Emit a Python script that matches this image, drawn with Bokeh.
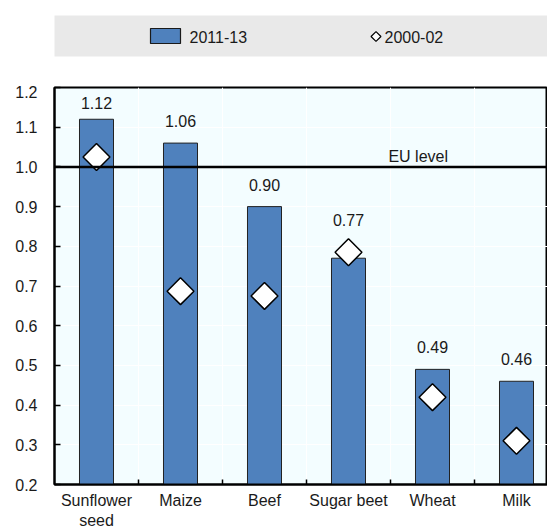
import math
from bokeh.plotting import figure
from bokeh.models import Range1d, FixedTicker, ColumnDataSource, LabelSet, Span, Label
from bokeh.layouts import column
from bokeh.core.properties import value
from bokeh.embed import file_html
from bokeh.resources import INLINE

# ---- data ----
categories = ["Sunflower\nseed", "Maize", "Beef", "Sugar beet", "Wheat", "Milk"]
values_2011_13 = [1.12, 1.06, 0.90, 0.77, 0.49, 0.46]
values_2000_02 = [1.025, 0.687, 0.675, 0.785, 0.42, 0.31]
y_ticks = [0.2, 0.3, 0.4, 0.5, 0.6, 0.7, 0.8, 0.9, 1.0, 1.1, 1.2]
eu_level = 1.0
series_names = ["2011-13", "2000-02"]

FONT = "Liberation Sans"
TXT = "#1a1a1a"
BLUE = "#4F81BD"
BG = "#F3FDFF"

W = 547
LEFT = 54
TOP_H = 85

# ---- legend strip (top) ----
top = figure(width=W, height=TOP_H, x_range=Range1d(LEFT, W), y_range=Range1d(TOP_H, 0),
             output_backend="svg", toolbar_location=None,
             x_axis_type=None, y_axis_type=None,
             min_border_left=LEFT, min_border_right=0, min_border_top=0, min_border_bottom=0)
top.outline_line_color = None
top.background_fill_color = "white"
top.border_fill_color = "white"
top.quad(left=53, right=W, top=15, bottom=56, fill_color="#E9E9E9", line_color=None)
top.quad(left=150, right=180, top=28, bottom=43, fill_color=BLUE, line_color=TXT, line_width=1.2)
top.text(x=[189], y=[36], text=[series_names[0]], text_font=value(FONT),
         text_font_size="16px", text_baseline="middle", text_color=TXT)
top.scatter(x=[375.5], y=[36], marker="square", angle=math.pi / 4, size=7,
            fill_color="white", line_color="black", line_width=1.2)
top.text(x=[384], y=[36], text=[series_names[1]], text_font=value(FONT),
         text_font_size="16px", text_baseline="middle", text_color=TXT)

# ---- main chart ----
n = len(categories)
xs = [i + 0.5 for i in range(n)]
px = 397.0  # frame height in px for one unit of y
label_y = [min(max(v + 16 / px, o + 26.5 / px), 1.2 - 21 / px)
           for v, o in zip(values_2011_13, values_2000_02)]
src = ColumnDataSource(dict(x=xs, top=values_2011_13, old=values_2000_02,
                            label_y=label_y,
                            label=[f"{v:.2f}" for v in values_2011_13]))

p = figure(frame_width=W - LEFT, frame_height=397,
           x_range=Range1d(0, (W - LEFT) / 84), y_range=Range1d(0.2, 1.2),
           output_backend="svg", toolbar_location=None,
           min_border_left=LEFT, min_border_right=0, min_border_top=2, min_border_bottom=4)
p.background_fill_color = BG
p.border_fill_color = "white"
p.outline_line_color = "black"
p.outline_line_width = 2

p.vbar(x="x", top="top", bottom=0, width=0.405, source=src,
       fill_color=BLUE, line_color="#222222", line_width=1)
p.scatter(x="x", y="old", source=src, marker="square", angle=math.pi / 4, size=19,
          fill_color="white", line_color="black", line_width=1.5)

p.add_layout(Span(location=eu_level, dimension="width", line_color="black", line_width=2.5))
p.add_layout(Label(x=4.33, y=eu_level, text="EU level", text_align="center",
                   text_baseline="alphabetic", y_offset=10, text_font=FONT,
                   text_font_size="16px", text_color=TXT))
p.add_layout(LabelSet(x="x", y="label_y", text="label", source=src, text_align="center",
                      text_baseline="alphabetic", text_font=value(FONT),
                      text_font_size="16px", text_color=TXT))

# x axis
p.xaxis.ticker = FixedTicker(ticks=xs, minor_ticks=[1, 2, 3, 4, 5])
p.xaxis.major_label_overrides = {x: c for x, c in zip(xs, categories)}
p.xaxis.major_tick_in = 0
p.xaxis.major_tick_out = 0
p.xaxis.minor_tick_in = 5
p.xaxis.minor_tick_out = 0
p.xaxis.minor_tick_line_color = "black"
p.xaxis.minor_tick_line_width = 1.5
p.xaxis.major_label_standoff = 7

# y axis
p.yaxis.ticker = FixedTicker(ticks=y_ticks)
p.yaxis.major_label_overrides = {t: f"{t:.1f}" for t in y_ticks}
p.yaxis.major_tick_in = 6
p.yaxis.major_tick_out = 0
p.yaxis.minor_tick_line_color = None
p.yaxis.major_tick_line_width = 1.5
p.yaxis.major_label_standoff = 17

for ax in (p.xaxis[0], p.yaxis[0]):
    ax.axis_line_color = "black"
    ax.axis_line_width = 2
    ax.major_tick_line_color = "black"
    ax.major_label_text_font = FONT
    ax.major_label_text_font_size = "16px"
    ax.major_label_text_color = TXT

p.xgrid.ticker = FixedTicker(ticks=[1, 2, 3, 4, 5])
p.xgrid.grid_line_color = "white"
p.xgrid.grid_line_width = 1
p.ygrid.grid_line_color = "white"
p.ygrid.grid_line_width = 1

layout = column(top, p, spacing=0, styles={"margin-bottom": "-30px"})

with open("out.html", "w") as f:
    f.write(file_html(layout, INLINE))
